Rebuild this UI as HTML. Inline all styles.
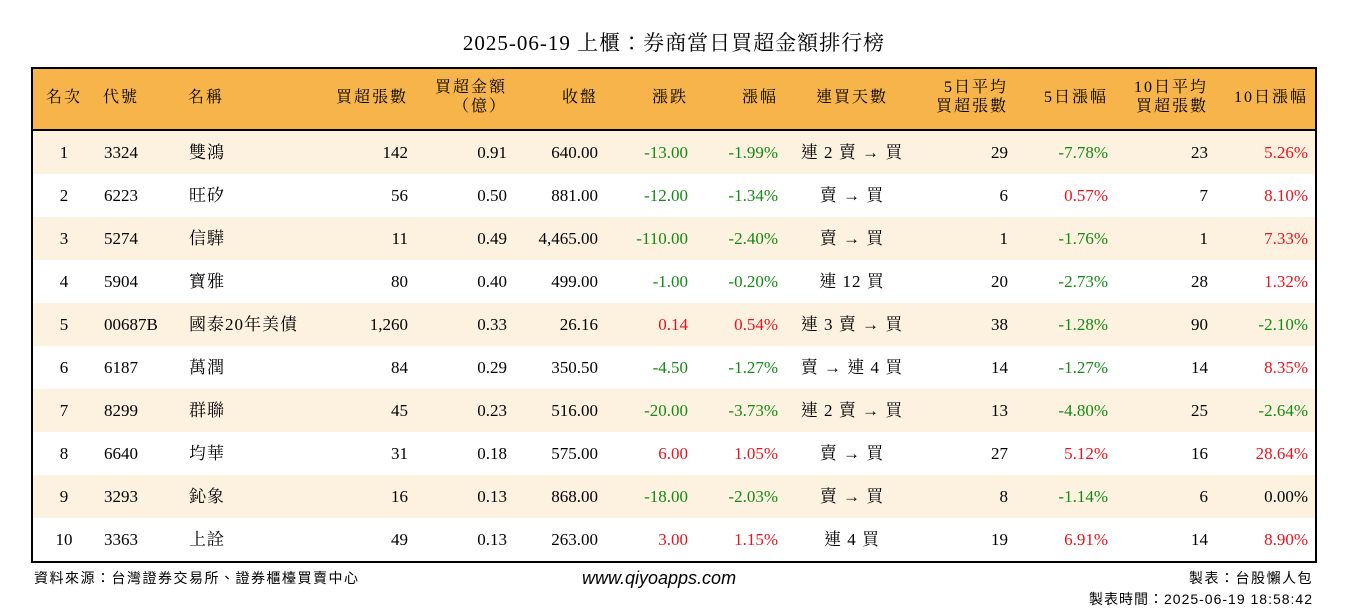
<!DOCTYPE html>
<html><head><meta charset="utf-8">
<style>
body{margin:0;width:1348px;height:612px;background:#fff;position:relative;overflow:hidden;font-family:"Liberation Serif","Noto Serif CJK TC",serif;color:#000}
#title{position:absolute;top:27px;left:0;width:1348px;text-align:center;font-size:21px;letter-spacing:1px}
#tbl{position:absolute;left:31px;top:67px;width:1282px;height:492px;border:2px solid #000}
#hdr{position:absolute;left:0;top:0;width:1282px;height:60px;background:#f6b44a;border-bottom:2px solid #000}
.row{position:absolute;left:0;width:1282px;height:43px}
.c{position:absolute;font-size:17px;line-height:20px;white-space:nowrap}
.h{font-size:16px;letter-spacing:2px;text-align:center;line-height:19px}
.foot{position:absolute;font-family:"Liberation Sans","Noto Sans CJK TC",sans-serif;font-size:14px;letter-spacing:1.5px}
</style></head><body>
<div id="title">2025-06-19 上櫃：券商當日買超金額排行榜</div>
<div id="tbl">
<div id="hdr"></div>
</div>
<div class="foot" style="left:34px;top:568px">資料來源：台灣證券交易所、證券櫃檯買賣中心</div>
<div class="foot" style="left:582px;top:568px;font-style:italic;font-size:18px;letter-spacing:0">www.qiyoapps.com</div>
<div class="foot" style="right:35px;top:568px">製表：台股懶人包</div>
<div class="foot" style="right:35px;top:589px;letter-spacing:1px">製表時間：2025-06-19 18:58:42</div>
<script>
const ranks=[1,2,3,4,5,6,7,8,9,10];
const codes=["3324","6223","5274","5904","00687B","6187","8299","6640","3293","3363"];
const names=["雙鴻","旺矽","信驊","寶雅","國泰20年美債","萬潤","群聯","均華","鈊象","上詮"];
const lots=["142","56","11","80","1,260","84","45","31","16","49"];
const amounts=["0.91","0.50","0.49","0.40","0.33","0.29","0.23","0.18","0.13","0.13"];
const closes=["640.00","881.00","4,465.00","499.00","26.16","350.50","516.00","575.00","868.00","263.00"];
const changes=[-13,-12,-110,-1,0.14,-4.5,-20,6,-18,3];
const pcts=[-1.99,-1.34,-2.40,-0.20,0.54,-1.27,-3.73,1.05,-2.03,1.15];
const streaks=["連 2 賣 → 買","賣 → 買","賣 → 買","連 12 買","連 3 賣 → 買","賣 → 連 4 買","連 2 賣 → 買","賣 → 買","賣 → 買","連 4 買"];
const avg5=[29,6,1,20,38,14,13,27,8,19];
const pct5=[-7.78,0.57,-1.76,-2.73,-1.28,-1.27,-4.80,5.12,-1.14,6.91];
const avg10=[23,7,1,28,90,14,25,16,6,14];
const pct10=[5.26,8.10,7.33,1.32,-2.10,8.35,-2.64,28.64,0.00,8.90];
const headers=[["名次",31,"c"],["代號",92,"c"],["名稱",172,"c"],["買超張數",375,"r"],["買超金額<br>（億）",474,"r"],["收盤",565,"r"],["漲跌",655,"r"],["漲幅",745,"r"],["連買天數",819,"c"],["5日平均<br>買超張數",975,"r"],["5日漲幅",1075,"r"],["10日平均<br>買超張數",1175,"r"],["10日漲幅",1275,"r"]];
const tbl=document.getElementById('tbl'),hdr=document.getElementById('hdr');
function cell(parent,txt,x,align,y,color){
 const d=document.createElement('div');d.className='c';d.innerHTML=txt;
 
 
 d.style.top=y+'px';
 if(align==='r'){d.style.right=(1282-x)+'px';d.style.textAlign='right';}
 else if(align==='c'){d.style.left=(x-100)+'px';d.style.width='200px';d.style.textAlign='center';}
 else d.style.left=x+'px';
 if(color)d.style.color=color;parent.appendChild(d);return d;}
headers.forEach(h=>{
 const two=h[0].includes('<br>');
 const d=cell(hdr,h[0],h[1],h[2],two?9:19);d.className='c h';
 
});
hdr.children[0].style.left='0px';hdr.children[0].style.width='62px';
hdr.children[1].style.left='70px';hdr.children[1].style.width='auto';hdr.children[1].style.textAlign='left';
hdr.children[2].style.left='155px';hdr.children[2].style.width='auto';hdr.children[2].style.textAlign='left';
hdr.children[8].style.left='719px';hdr.children[8].style.width='200px';
const G='#138a13',R='#e8131f';
function col(v){return v<0?G:(v>0?R:'#000');}
function fmt(v,d){return v.toFixed(d);}
ranks.forEach((r,i)=>{
 const row=document.createElement('div');row.className='row';
 
 
 row.style.top=(62+i*43)+'px';row.style.background=i%2===0?'#fdf2df':'#fff';
 tbl.appendChild(row);
 const y=12;
 cell(row,r,31,'c',y).style.cssText+='left:0;width:62px';
 cell(row,codes[i],71,'l',y);
 cell(row,names[i],156,'l',y).style.letterSpacing='1px';
 cell(row,lots[i],375,'r',y);
 cell(row,amounts[i],474,'r',y);
 cell(row,closes[i],565,'r',y);
 cell(row,fmt(changes[i],2),655,'r',y,col(changes[i]));
 cell(row,fmt(pcts[i],2)+'%',745,'r',y,col(pcts[i]));
 cell(row,streaks[i],819,'c',y).style.letterSpacing='1px';
 cell(row,avg5[i],975,'r',y);
 cell(row,fmt(pct5[i],2)+'%',1075,'r',y,col(pct5[i]));
 cell(row,avg10[i],1175,'r',y);
 cell(row,fmt(pct10[i],2)+'%',1275,'r',y,col(pct10[i]));
});
</script>
</body></html>
